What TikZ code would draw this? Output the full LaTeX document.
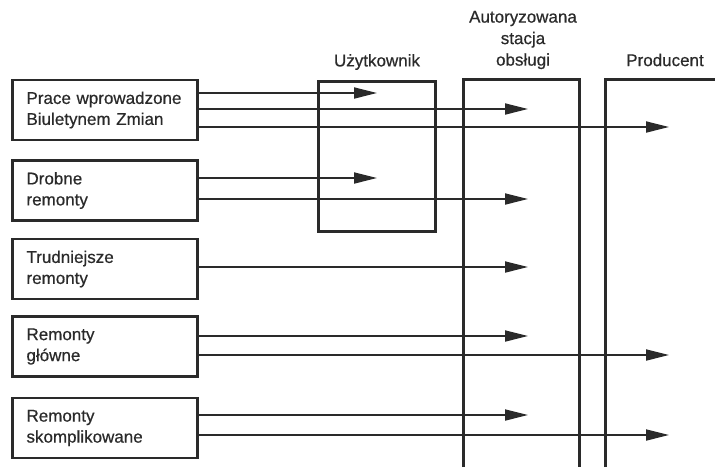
\documentclass[tikz,border=0pt]{standalone}
\usepackage{fontspec}
\setmainfont{Liberation Sans}
\newfontfamily\labfont{Liberation Sans}[FakeBold=0.6]
\usetikzlibrary{arrows.meta}
\definecolor{ink}{HTML}{2A2A2A}
\tikzset{
  srcbox/.style={draw=ink, line width=2.6pt, rectangle, minimum width=184pt,
    minimum height=60pt, text width=157pt, inner xsep=14pt, align=left,
    font=\labfont\fontsize{17}{21}\selectfont, text=ink},
  colbox/.style={draw=ink, line width=2.8pt},
  colhead/.style={align=center, font=\labfont\fontsize{17}{21.5}\selectfont, text=ink, inner sep=0pt},
  flow/.style={draw=ink, line width=1.8pt, -{Triangle[length=23pt,width=11pt]}}
}
\begin{document}
\begin{tikzpicture}[x=1pt,y=-1pt]
  \useasboundingbox (0,0) rectangle (715,467);

  % work categories
  \node[srcbox] (b1) at (105,110)   {Prace wprowadzone\\Biuletynem Zmian};
  \node[srcbox] (b2) at (105,190.5) {Drobne\\remonty};
  \node[srcbox] (b3) at (105,269)   {Trudniejsze\\remonty};
  \node[srcbox] (b4) at (105,346.5) {Remonty\\główne};
  \node[srcbox] (b5) at (105,428)   {Remonty\\skomplikowane};

  % columns: user, authorised service station, producer
  \node[colbox, rectangle, minimum width=117pt, minimum height=150pt] (uz) at (377,156.5) {};
  \draw[colbox] (463.5,467) coordinate (asoBL) -- (463.5,79.5) -- (579.5,79.5) -- (579.5,467);
  \draw[colbox] (605.5,467) coordinate (prBL) -- (605.5,79.5) -- (717,79.5);

  \node[colhead] (uzt) at (377,62) {Użytkownik};
  \node[colhead] (asot) at (523,40) {Autoryzowana\\stacja\\obsługi};
  \node[colhead] (prt) at (665,60) {Producent};

  % arrow end points in each column
  \coordinate (tU) at (377,0);
  \coordinate (tA) at (528,0);
  \coordinate (tP) at (669,0);

  % flows
  \draw[flow] ([yshift=17pt]b1.east)  coordinate (s11) -- (s11 -| tU);
  \draw[flow] ([yshift=1pt]b1.east)   coordinate (s12) -- (s12 -| tA);
  \draw[flow] ([yshift=-17pt]b1.east) coordinate (s13) -- (s13 -| tP);

  \draw[flow] ([yshift=12.5pt]b2.east) coordinate (s21) -- (s21 -| tU);
  \draw[flow] ([yshift=-8.5pt]b2.east) coordinate (s22) -- (s22 -| tA);

  \draw[flow] ([yshift=2pt]b3.east) coordinate (s31) -- (s31 -| tA);

  \draw[flow] ([yshift=10.5pt]b4.east) coordinate (s41) -- (s41 -| tA);
  \draw[flow] ([yshift=-8.5pt]b4.east) coordinate (s42) -- (s42 -| tP);

  \draw[flow] ([yshift=13pt]b5.east) coordinate (s51) -- (s51 -| tA);
  \draw[flow] ([yshift=-7pt]b5.east) coordinate (s52) -- (s52 -| tP);
\end{tikzpicture}
\end{document}
